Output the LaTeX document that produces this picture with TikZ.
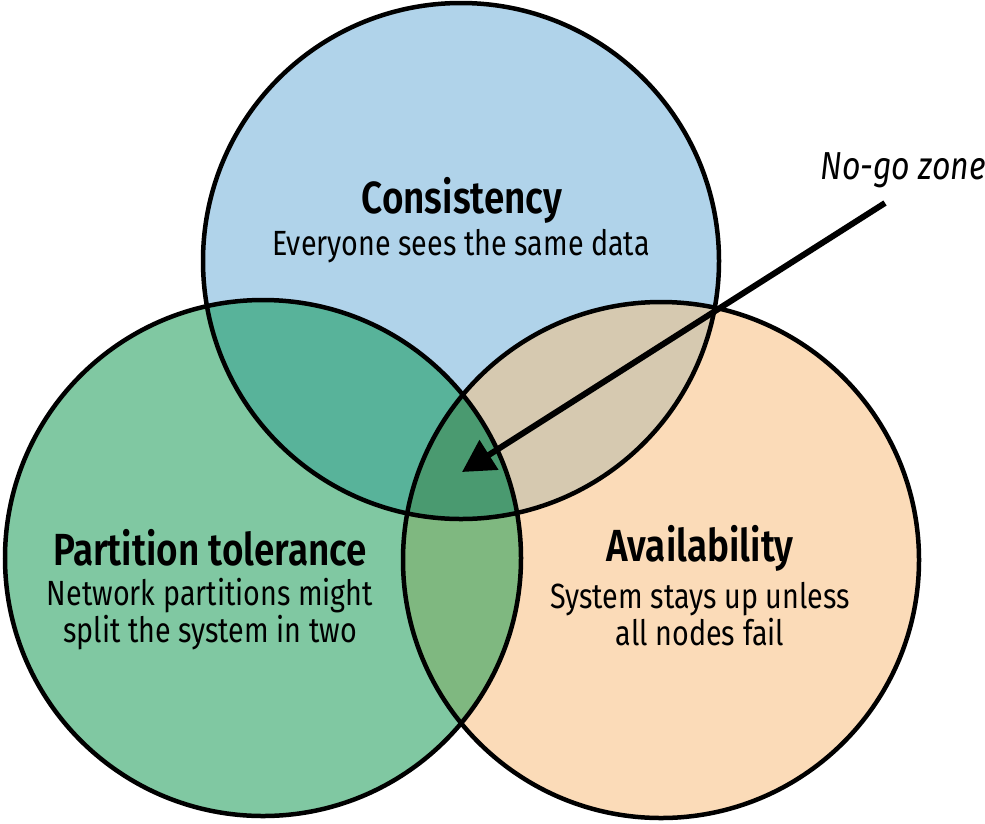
\documentclass[tikz,border=0pt]{standalone}
\usepackage{fontspec}
\setmainfont[FakeStretch=0.82, BoldFont={Fira Sans SemiBold}]{Fira Sans}
\usetikzlibrary{arrows.meta}
\definecolor{cBlue}{HTML}{B0D3EA}
\definecolor{cGreen}{HTML}{80C8A2}
\definecolor{cOrange}{HTML}{FBDBB8}
\definecolor{cCP}{HTML}{58B39A}
\definecolor{cCA}{HTML}{D6C9B0}
\definecolor{cPA}{HTML}{7FB880}
\definecolor{cAll}{HTML}{4A9A70}
\tikzset{
  ring/.style={draw=black, line width=4.5pt},
  ttl/.style={font=\fontsize{45}{50}\selectfont\bfseries, inner sep=0pt},
  sub/.style={font=\fontsize{35}{37}\selectfont, align=center, inner sep=0pt},
}
\begin{document}
\begin{tikzpicture}[x=1pt,y=-1pt]
\useasboundingbox (0,0) rectangle (985,823);
\def\R{258}
\coordinate (cc) at (461,261);
\coordinate (pc) at (263,558);
\coordinate (ac) at (661,560);
% base fills
\fill[cGreen] (pc) circle (\R);
\fill[cOrange] (ac) circle (\R);
\fill[cBlue] (cc) circle (\R);
% pairwise overlaps
\begin{scope}
  \clip (cc) circle (\R);
  \fill[cCP] (pc) circle (\R);
  \fill[cCA] (ac) circle (\R);
\end{scope}
\begin{scope}
  \clip (pc) circle (\R);
  \fill[cPA] (ac) circle (\R);
  \clip (ac) circle (\R);
  \fill[cAll] (cc) circle (\R);
\end{scope}
% outlines
\draw[ring] (cc) circle (\R);
\draw[ring] (pc) circle (\R);
\draw[ring] (ac) circle (\R);
% labels
\node[ttl] (ct) at (462,200) {Consistency};
\node[sub] (cs) at (461,246) {Everyone sees the same data};
\node[ttl] (pt) at (210,548) {Partition tolerance};
\node[sub] (ps) at (210,614) {Network partitions might\\split the system in two};
\node[ttl] (at) at (700,548) {Availability};
\node[sub] (as) at (700,614) {System stays up unless\\all nodes fail};
\node[font=\fontsize{39}{42}\selectfont\itshape, inner sep=0pt] (ng) at (903,170) {No-go zone};
\coordinate (ngs) at (885,203);
\coordinate (ngt) at (462,472);
\draw[line width=6pt, -{Triangle[length=32pt,width=34pt]}] (ngs) -- (ngt);
\end{tikzpicture}
\end{document}
